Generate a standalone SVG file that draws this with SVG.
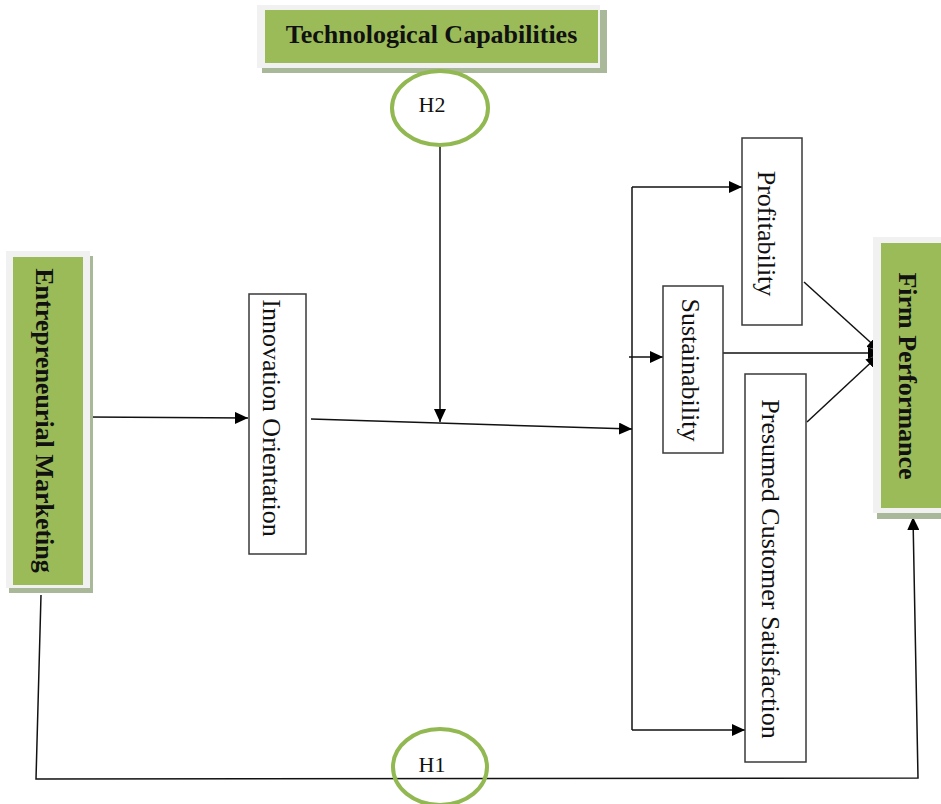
<svg xmlns="http://www.w3.org/2000/svg" width="941" height="804" viewBox="0 0 941 804">
<style>
.bg{fill:#ffffff}
.shadow{fill:#a9b898}
.frame{fill:#f1f1f1}
.green{fill:#9bbb59}
.box{fill:#ffffff;stroke:#3a3a3a;stroke-width:1.5}
.hyp{fill:none;stroke:#92b852;stroke-width:4}
.bold{font-family:"Liberation Serif","Times New Roman",serif;font-weight:bold;font-size:26px;fill:#111}
.reg{font-family:"Liberation Serif","Times New Roman",serif;font-size:26px;fill:#111}
.h{font-family:"Liberation Serif","Times New Roman",serif;font-size:22px;fill:#111}
.line{fill:none;stroke:#111;stroke-width:1.5}
</style>
<defs>
<marker id="arr" markerUnits="userSpaceOnUse" markerWidth="14" markerHeight="12" refX="13" refY="6" orient="auto">
<path d="M0,0 L13,6 L0,12 z" fill="#000"/>
</marker>
</defs>
<rect class="bg" x="0" y="0" width="941" height="804"/>

<g id="connectors">
<path class="line" d="M88 417 L248 418" marker-end="url(#arr)"/>
<path class="line" d="M440 146 L440 422" marker-end="url(#arr)"/>
<path class="line" d="M311 419 L632 429" marker-end="url(#arr)"/>
<path class="line" d="M632 187 L632 730"/>
<path class="line" d="M632 187 L742 187" marker-end="url(#arr)"/>
<path class="line" d="M629 357 L663 357" marker-end="url(#arr)"/>
<path class="line" d="M632 730 L745 730" marker-end="url(#arr)"/>
<path class="line" d="M804 282 L880 351" marker-end="url(#arr)"/>
<path class="line" d="M723 353 L881 353" marker-end="url(#arr)"/>
<path class="line" d="M807 422 L879 355" marker-end="url(#arr)"/>
<path class="line" d="M41 595 L36 779 L918 778 L913 517" marker-end="url(#arr)"/>
</g>

<g id="technological-capabilities">
<rect class="shadow" x="262" y="10" width="345" height="63"/>
<rect class="frame" x="257" y="5" width="343" height="63"/>
<rect class="green" x="265" y="10" width="333" height="53"/>
<text class="bold" x="431.5" y="43" text-anchor="middle">Technological Capabilities</text>
</g>

<g id="h2">
<ellipse class="hyp" cx="440" cy="108" rx="48" ry="37" style="fill:#fff"/>
<text class="h" x="432" y="112" text-anchor="middle">H2</text>
</g>

<g id="entrepreneurial-marketing">
<rect class="shadow" x="9" y="256" width="84" height="337"/>
<rect class="frame" x="6" y="251" width="84" height="337"/>
<rect class="green" x="13" y="257" width="70" height="328"/>
<text class="bold" transform="translate(36,420.5) rotate(90)" text-anchor="middle">Entrepreneurial Marketing</text>
</g>

<g id="innovation-orientation">
<rect class="box" x="249" y="294" width="57" height="260"/>
<text class="reg" transform="translate(263,418) rotate(90)" text-anchor="middle">Innovation Orientation</text>
</g>

<g id="profitability">
<rect class="box" x="742" y="138" width="60" height="187"/>
<text class="reg" transform="translate(758,233.5) rotate(90)" text-anchor="middle">Profitability</text>
</g>

<g id="sustainability">
<rect class="box" x="663" y="286" width="60" height="167"/>
<text class="reg" transform="translate(682,370) rotate(90)" text-anchor="middle">Sustainability</text>
</g>

<g id="presumed-customer-satisfaction">
<rect class="box" x="745" y="374" width="61" height="388"/>
<text class="reg" transform="translate(762,569) rotate(90)" text-anchor="middle">Presumed Customer Satisfaction</text>
</g>

<g id="firm-performance">
<rect class="shadow" x="877" y="245" width="70" height="274"/>
<rect class="frame" x="873" y="237" width="70" height="276"/>
<rect class="green" x="881" y="243" width="60" height="265"/>
<text class="bold" transform="translate(899,376) rotate(90)" text-anchor="middle">Firm Performance</text>
</g>

<g id="h1">
<ellipse class="hyp" cx="440" cy="767" rx="47" ry="38"/>
<text class="h" x="432" y="772" text-anchor="middle">H1</text>
</g>
</svg>
